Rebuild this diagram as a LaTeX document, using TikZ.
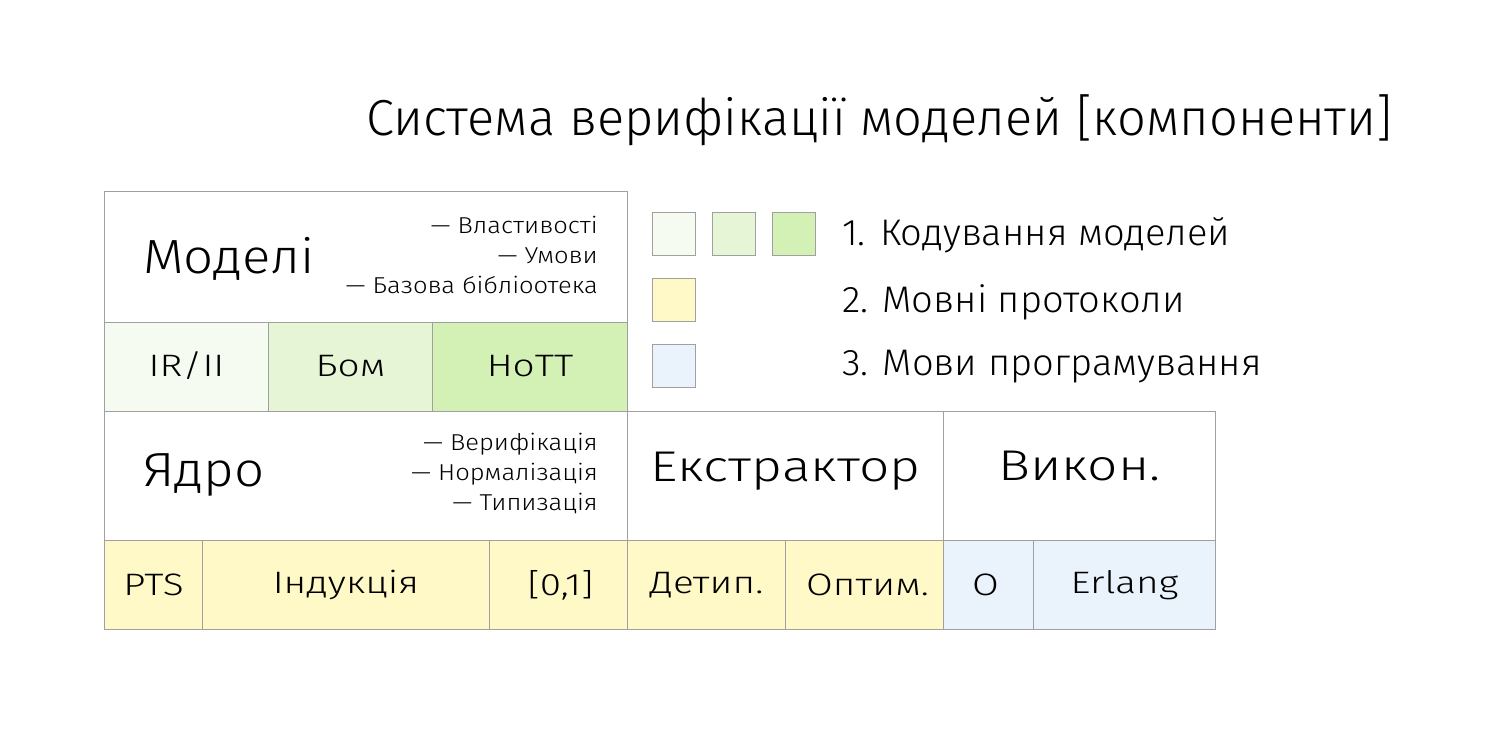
\documentclass[tikz,border=0pt]{standalone}
\usepackage{fontspec}
\IfFontExistsTF{Fira Sans Light}{\setmainfont{Fira Sans Light}}{\IfFontExistsTF{Open Sans Light}{\setmainfont{Open Sans Light}}{\setmainfont{Fira Sans}}}
\definecolor{bordc}{HTML}{A0A0A0}
\definecolor{gA}{HTML}{F5FBF0}
\definecolor{gB}{HTML}{E5F5D5}
\definecolor{gC}{HTML}{D3F0B5}
\definecolor{yel}{HTML}{FFF9C8}
\definecolor{blu}{HTML}{EAF2FC}
\begin{document}
\begin{tikzpicture}[x=1pt,y=-1pt,
  cellbox/.style={draw=bordc,line width=1pt,inner sep=0pt},
  bigtxt/.style={font=\fontsize{48}{52}\selectfont\addfontfeature{FakeStretch=1.1},inner sep=0pt},
  midtxt/.style={font=\fontsize{43}{46}\selectfont\addfontfeature{FakeStretch=1.24},inner sep=0pt},
  subtxt/.style={font=\fontsize{31}{34}\selectfont\addfontfeature{FakeStretch=1.25},inner sep=0pt},
  listtxt/.style={font=\fontsize{23}{30}\selectfont\addfontfeature{FakeStretch=1.11},align=right,inner sep=0pt,anchor=east},
  legtxt/.style={font=\fontsize{37}{40}\selectfont\addfontfeature{FakeStretch=1.03},inner sep=0pt,anchor=west},
  sq/.style={draw=bordc,line width=1pt,minimum width=43pt,minimum height=43pt,inner sep=0pt,anchor=north west}]
\useasboundingbox (0,0) rectangle (1499,750);
% title
\node[font=\fontsize{50.6}{55}\selectfont,anchor=east,inner sep=0pt] (title) at (1393,120) {Система верифікації моделей [компоненти]};
% cells
\newcommand{\cellrect}[6]{\node[cellbox,fill=#6,minimum width=#3-#1,minimum height=#4-#2,anchor=north west] (#5) at (#1,#2) {};}
\cellrect{104}{191}{627}{322}{models}{white}
\cellrect{104}{322}{268}{411}{irii}{gA}
\cellrect{268}{322}{432}{411}{bom}{gB}
\cellrect{432}{322}{627}{411}{hott}{gC}
\cellrect{104}{411}{627}{540}{core}{white}
\cellrect{627}{411}{943}{540}{extr}{white}
\cellrect{943}{411}{1215}{540}{exec}{white}
\cellrect{104}{540}{202}{629}{pts}{yel}
\cellrect{202}{540}{489}{629}{ind}{yel}
\cellrect{489}{540}{627}{629}{unit}{yel}
\cellrect{627}{540}{785}{629}{detyp}{yel}
\cellrect{785}{540}{943}{629}{optim}{yel}
\cellrect{943}{540}{1033}{629}{ocell}{blu}
\cellrect{1033}{540}{1215}{629}{erl}{blu}
% texts
\node[bigtxt,anchor=west] (modelsT) at (143,259) {Моделі};
\node[listtxt] (modelsL) at (598,255) {— Властивості\\— Умови\\— Базова бібліоотека};
\node[subtxt] at ([yshift=1pt]irii.center) {IR/II};
\node[subtxt] at ([yshift=1pt]bom.center) {Бом};
\node[subtxt] at ([yshift=1pt]hott.center) {HoTT};
\node[bigtxt,anchor=west] (coreT) at (143,475) {Ядро};
\node[listtxt] (coreL) at (598,473) {— Верифікація\\— Нормалізація\\— Типизація};
\node[midtxt] at ([yshift=5pt]extr.center) {Екстрактор};
\node[midtxt] at ([yshift=10pt]exec.center) {Викон.};
\node[subtxt] at (pts.center) {PTS};
\node[subtxt] at (ind.center) {Індукція};
\node[subtxt] at ([xshift=2pt]unit.center) {[0,1]};
\node[subtxt] at (detyp.center) {Детип.};
\node[subtxt] at ([xshift=3pt]optim.center) {Оптим.};
\node[subtxt] at ([xshift=-3pt]ocell.center) {O};
\node[subtxt] at (erl.center) {Erlang};
% legend
\node[sq,fill=gA] (l1a) at (652,212) {};
\node[sq,fill=gB] (l1b) at (712,212) {};
\node[sq,fill=gC] (l1c) at (772,212) {};
\node[sq,fill=yel] (l2) at (652,278) {};
\node[sq,fill=blu] (l3) at (652,344) {};
\node[legtxt] (t1) at (842,235) {1. Кодування моделей};
\node[legtxt] (t2) at (842,302) {2. Мовні протоколи};
\node[legtxt] (t3) at (842,367) {3. Мови програмування};
\end{tikzpicture}
\end{document}
